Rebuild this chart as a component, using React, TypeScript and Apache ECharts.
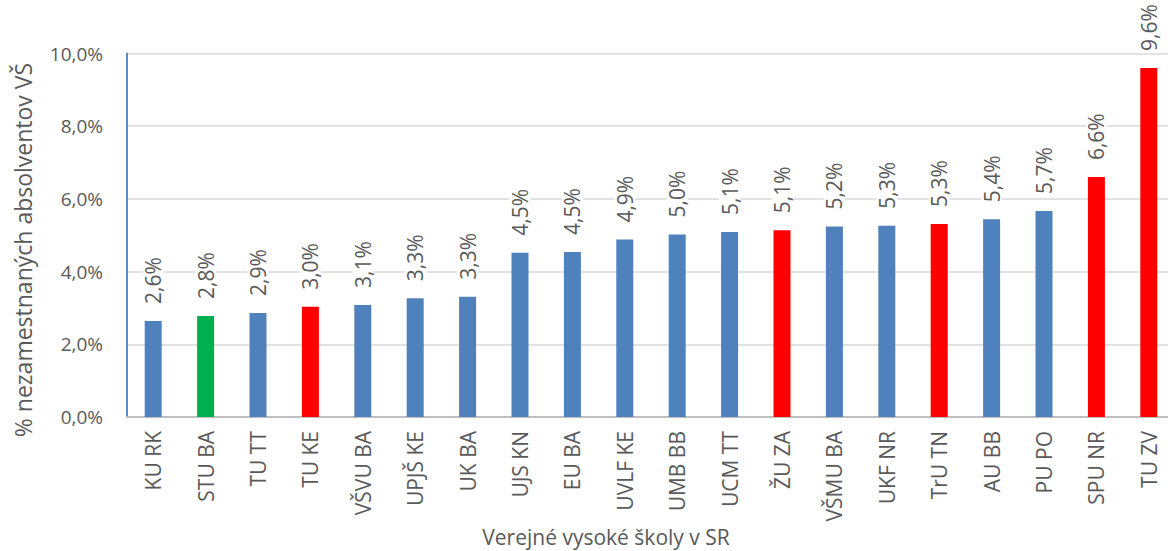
import React, { useEffect, useRef } from "react";
import * as echarts from "echarts";

const categories = ["KU RK", "STU BA", "TU TT", "TU KE", "VŠVU BA", "UPJŠ KE", "UK BA", "UJS KN", "EU BA", "UVLF KE", "UMB BB", "UCM TT", "ŽU ZA", "VŠMU BA", "UKF NR", "TrU TN", "AU BB", "PU PO", "SPU NR", "TU ZV"];
const values = [2.64, 2.78, 2.86, 3.03, 3.08, 3.27, 3.31, 4.52, 4.54, 4.88, 5.02, 5.09, 5.14, 5.24, 5.26, 5.31, 5.44, 5.67, 6.6, 9.6];
const highlight = ["blue", "green", "blue", "red", "blue", "blue", "blue", "blue", "blue", "blue", "blue", "blue", "red", "blue", "blue", "red", "blue", "blue", "red", "red"];
const yTicks = { min: 0, max: 10, interval: 2 };
const xTitle = "Verejné vysoké školy v SR";
const yTitle = "% nezamestnaných absolventov VŠ";

const colorMap: Record<string, string> = { blue: "#4F81BD", green: "#00B050", red: "#FF0000" };
const FONT = "'Open Sans', sans-serif";
const TXT = "#595959";
const fmt = (v: number) => v.toFixed(1).replace(".", ",") + "%";

export default function App() {
  const ref = useRef<HTMLDivElement>(null);
  useEffect(() => {
    if (!ref.current) return;
    const chart = echarts.init(ref.current, null, { renderer: "svg" });
    chart.setOption({
      animation: false,
      backgroundColor: "#ffffff",
      grid: { left: 127, right: -7, top: 53.5, bottom: 134, containLabel: false },
      xAxis: {
        type: "category",
        data: categories,
        axisLine: { lineStyle: { color: "#BFBFBF", width: 2 } },
        axisTick: { show: false },
        axisLabel: { rotate: 90, color: TXT, fontFamily: FONT, fontSize: 21, margin: 14, interval: 0 },
      },
      yAxis: {
        type: "value",
        min: yTicks.min,
        max: yTicks.max,
        interval: yTicks.interval,
        axisLine: { show: true, lineStyle: { color: "#5B8AC6", width: 2 } },
        axisTick: { show: false },
        splitLine: { lineStyle: { color: "#D9D9D9", width: 1.5 } },
        axisLabel: { color: TXT, fontFamily: FONT, fontSize: 19, margin: 24, formatter: (v: number) => fmt(v) },
      },
      graphic: [
        {
          type: "text",
          x: 23,
          y: 250,
          rotation: Math.PI / 2,
          style: { text: yTitle, fill: TXT, fontFamily: FONT, fontSize: 23, align: "center", verticalAlign: "middle" },
        },
        {
          type: "text",
          x: 606,
          y: 537,
          style: { text: xTitle, fill: TXT, fontFamily: FONT, fontSize: 21, align: "center", verticalAlign: "middle" },
        },
      ],
      series: [
        {
          type: "bar",
          barWidth: 17,
          data: values.map((v, i) => ({ value: v, itemStyle: { color: colorMap[highlight[i]] } })),
          label: {
            show: true,
            position: "top",
            rotate: 90,
            align: "left",
            verticalAlign: "middle",
            distance: 15,
            color: TXT,
            fontFamily: FONT,
            fontSize: 21,
            backgroundColor: "#ffffff",
            padding: [0, 2],
            formatter: (p: any) => fmt(p.value),
          },
        },
      ],
    });
    return () => chart.dispose();
  }, []);
  return <div ref={ref} style={{ position: "fixed", left: 0, top: 0, width: 1175, height: 551 }} />;
}
